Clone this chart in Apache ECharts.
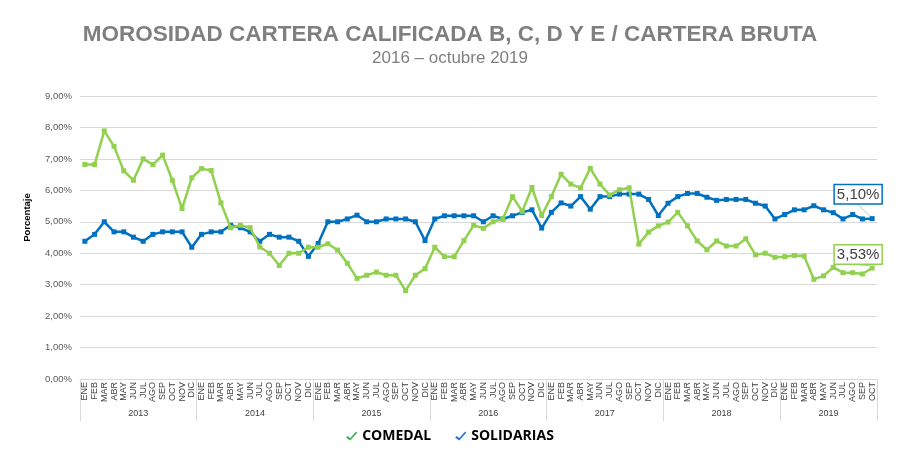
<!DOCTYPE html>
<html>
<head>
<meta charset="utf-8">
<script src="https://cdn.jsdelivr.net/npm/echarts@6/dist/echarts.min.js"></script>
<style>
  html, body { margin: 0; padding: 0; background: #fff; }
  #chart { width: 900px; height: 460px; }
</style>
</head>
<body>
<div id="chart"></div>
<script>
var meses = ['ENE', 'FEB', 'MAR', 'ABR', 'MAY', 'JUN', 'JUL', 'AGO', 'SEP', 'OCT', 'NOV', 'DIC'];
var anios = ['2013', '2014', '2015', '2016', '2017', '2018', '2019'];
var mesesUltimoAnio = 10; // 2019 hasta octubre

var comedal = [
  6.82, 6.82, 7.89, 7.40, 6.62, 6.32, 7.00, 6.82, 7.12, 6.32, 5.42, 6.40,
  6.69, 6.63, 5.60, 4.81, 4.89, 4.81, 4.20, 4.00, 3.61, 4.00, 4.00, 4.19,
  4.19, 4.30, 4.10, 3.68, 3.20, 3.30, 3.40, 3.30, 3.30, 2.81, 3.30, 3.51,
  4.19, 3.89, 3.89, 4.40, 4.89, 4.79, 5.00, 5.09, 5.80, 5.33, 6.09, 5.20,
  5.80, 6.51, 6.20, 6.08, 6.70, 6.20, 5.85, 6.02, 6.08, 4.29, 4.67, 4.87,
  4.99, 5.30, 4.87, 4.39, 4.11, 4.39, 4.23, 4.23, 4.46, 3.95, 4.00, 3.87,
  3.89, 3.93, 3.91, 3.17, 3.28, 3.55, 3.38, 3.38, 3.34, 3.53
];
var solidarias = [
  4.38, 4.60, 5.00, 4.68, 4.68, 4.51, 4.38, 4.60, 4.68, 4.68, 4.68, 4.19,
  4.60, 4.68, 4.68, 4.89, 4.81, 4.68, 4.38, 4.60, 4.51, 4.51, 4.38, 3.90,
  4.31, 5.00, 5.00, 5.09, 5.21, 5.00, 5.00, 5.09, 5.09, 5.09, 5.00, 4.40,
  5.09, 5.19, 5.19, 5.19, 5.19, 5.00, 5.19, 5.09, 5.19, 5.30, 5.38, 4.80,
  5.30, 5.60, 5.50, 5.80, 5.40, 5.80, 5.80, 5.88, 5.88, 5.88, 5.71, 5.20,
  5.59, 5.80, 5.90, 5.90, 5.78, 5.68, 5.71, 5.71, 5.71, 5.59, 5.50, 5.09,
  5.23, 5.38, 5.38, 5.51, 5.38, 5.29, 5.09, 5.23, 5.09, 5.10
];
var yTicks = [0, 1, 2, 3, 4, 5, 6, 7, 8, 9];

// categorias unicas "MES|AÑO"
var categorias = [];
var limites = [0];
var centros = [];
anios.forEach(function (a, k) {
  var n = (k === anios.length - 1) ? mesesUltimoAnio : 12;
  var ini = categorias.length;
  for (var m = 0; m < n; m++) categorias.push(meses[m] + '|' + a);
  limites.push(categorias.length);
  centros.push(ini + n / 2);
});

function pct(v) { return v.toFixed(2).replace('.', ',') + '%'; }

// solo el ultimo punto lleva etiqueta
function conEtiqueta(datos, color) {
  return datos.map(function (v, i) {
    if (i !== datos.length - 1) return v;
    return {
      value: v,
      label: {
        show: true, position: 'top', formatter: pct(v),
        fontSize: 15, color: '#404040', fontFamily: 'Liberation Sans, Arial',
        backgroundColor: '#fff', borderColor: color, borderWidth: 1.5,
        padding: [2, 2, 1, 2]
      }
    };
  });
}

var chart = echarts.init(document.getElementById('chart'));
chart.setOption({
  animation: false,
  title: {
    text: 'MOROSIDAD CARTERA CALIFICADA B, C, D Y E / CARTERA BRUTA',
    subtext: '2016 \u2013 octubre 2019',
    left: 'center', top: 18, itemGap: 4,
    textStyle: { fontSize: 22.5, fontWeight: 'bold', color: '#7f7f7f', fontFamily: 'Liberation Sans Narrow, Arial Narrow, Liberation Sans, sans-serif' },
    subtextStyle: { fontSize: 17, color: '#7f7f7f', fontFamily: 'Liberation Sans Narrow, Arial Narrow, Liberation Sans, sans-serif' }
  },
  legend: {
    bottom: 12, left: 'center', itemGap: 24, itemWidth: 11, itemHeight: 10,
    icon: 'path://M0,6 L1.6,4.4 L4,6.8 L10,0 L11,1.2 L4,9 Z',
    textStyle: { fontSize: 14, fontWeight: 'bold', color: '#000', fontFamily: 'Open Sans' },
    data: [
      { name: 'COMEDAL', itemStyle: { color: '#2fb344' } },
      { name: 'SOLIDARIAS', itemStyle: { color: '#1a6fc4' } }
    ]
  },
  grid: { left: 80, right: 23, top: 96, bottom: 81 },
  xAxis: [{
    type: 'category', data: categorias, boundaryGap: true,
    axisLine: { lineStyle: { color: '#d9d9d9' } },
    axisTick: { show: false },
    axisLabel: {
      interval: 0, rotate: 90, fontSize: 9, margin: 3, color: '#404040',
      fontFamily: 'Liberation Sans, Arial',
      formatter: function (v) { return v.split('|')[0]; }
    }
  }, {
    type: 'value', min: 0, max: categorias.length, position: 'bottom',
    axisLine: { show: false }, splitLine: { show: false },
    axisTick: { show: true, customValues: limites, length: 42, lineStyle: { color: '#d9d9d9' } },
    axisLabel: {
      customValues: centros, fontSize: 9, margin: 30, color: '#404040',
      fontFamily: 'Liberation Sans, Arial',
      formatter: function (v) { return anios[centros.indexOf(v)] || ''; }
    }
  }],
  yAxis: {
    type: 'value', min: yTicks[0], max: yTicks[yTicks.length - 1], interval: 1,
    name: 'Porcentaje', nameLocation: 'middle', nameGap: 48,
    nameTextStyle: { fontSize: 9.5, fontWeight: 'bold', color: '#000', fontFamily: 'Liberation Sans, Arial', padding: [0, 0, 0, 40] },
    axisLabel: { fontSize: 9.5, color: '#595959', margin: 8, fontFamily: 'Liberation Sans, Arial', formatter: pct },
    axisLine: { show: false }, axisTick: { show: false },
    splitLine: { lineStyle: { color: '#d9d9d9' } }
  },
  series: [{
    name: 'COMEDAL', type: 'line', data: conEtiqueta(comedal, '#92d050'),
    color: '#92d050', symbol: 'rect', symbolSize: 5, showAllSymbol: true,
    lineStyle: { width: 2.5 }, z: 3,
    labelLayout: { dx: -14, dy: 3 },
    labelLine: { show: true, lineStyle: { color: '#bfbfbf', width: 1 } }
  }, {
    name: 'SOLIDARIAS', type: 'line', data: conEtiqueta(solidarias, '#0070c0'),
    color: '#0070c0', symbol: 'rect', symbolSize: 5, showAllSymbol: true,
    lineStyle: { width: 2.5 }, z: 2,
    labelLayout: { dx: -14, dy: -8 },
    labelLine: { show: true, lineStyle: { color: '#bfbfbf', width: 1 } }
  }]
});
</script>
</body>
</html>
